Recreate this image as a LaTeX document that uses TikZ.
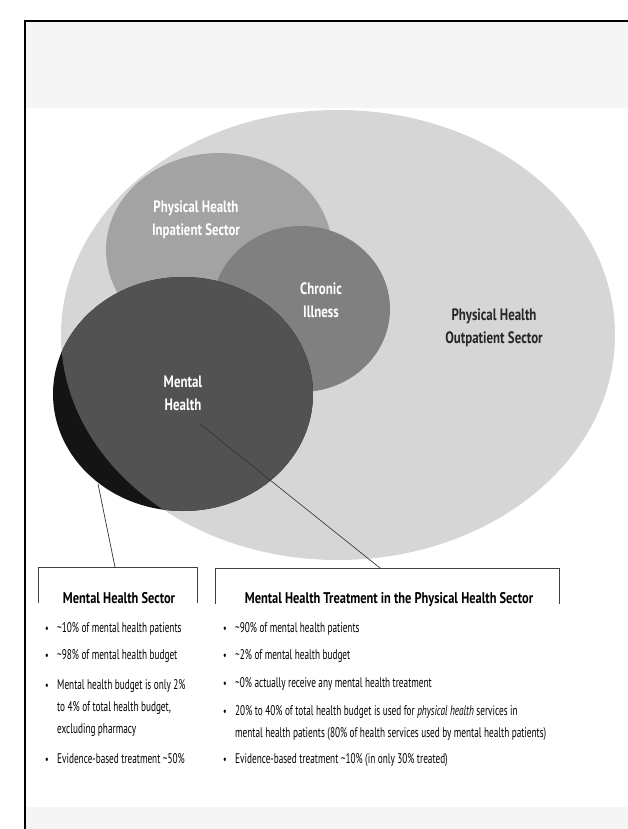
\documentclass[tikz,border=0pt]{standalone}
\usepackage{fontspec}
\setmainfont[FakeStretch=0.66]{PT Sans}
\newfontfamily\hdfont[FakeStretch=0.8]{PT Sans}
\newfontfamily\lbfont[FakeStretch=0.78]{PT Sans}
\newcommand{\tl}{\textasciitilde}
\begin{document}
\begin{tikzpicture}[x=1pt,y=-1pt,
  bodytext/.style={anchor=base west,inner sep=0pt,font=\fontsize{14}{16}\selectfont,text=black},
  bul/.style={anchor=base,inner sep=0pt,font=\fontsize{12}{14}\selectfont,text=black},
  boxtitle/.style={anchor=base,inner sep=0pt,font=\hdfont\fontsize{15.5}{18}\selectfont\bfseries,text=black},
  vlabel/.style={align=center,inner sep=0pt,font=\lbfont\fontsize{16.5}{23}\selectfont\bfseries,text=white},
  framebox/.style={draw=black!75,line width=1pt},
  leader/.style={draw=black!80,line width=0.7pt}]
\useasboundingbox (0,0) rectangle (628,829);
\fill[white] (0,0) rectangle (628,829);
% background bands
\fill[black!4] (25,21) rectangle (628,108);
\fill[black!4] (25,807) rectangle (628,829);
% frame
\draw[black,line width=1.6pt] (25,829) -- (25,21) -- (628,21);
% ellipses
\fill[black!16] (338,335) ellipse [x radius=277,y radius=225];
\fill[black!36] (219,250) ellipse [x radius=113,y radius=97];
\fill[black!50] (301,309) ellipse [x radius=89,y radius=83];
\fill[black!92] (183,394) ellipse [x radius=130,y radius=117];
\begin{scope}
  \clip (338,335) ellipse [x radius=277,y radius=225];
  \fill[black!68] (183,394) ellipse [x radius=130,y radius=117];
\end{scope}
% labels
\node[vlabel] (inpat) at (196,220) {Physical Health\\Inpatient Sector};
\node[vlabel] (chron) at (321,300) {Chronic\\Illness};
\node[vlabel] (mental) at (183,393) {Mental\\Health};
\node[vlabel,text=black!85] (outpat) at (494,328) {Physical Health\\Outpatient Sector};
% boxes
\coordinate (lbl) at (38,603); \coordinate (ltl) at (38,567);
\coordinate (ltr) at (197,567); \coordinate (lbr) at (197,603);
\draw[framebox] (lbl) -- (ltl) -- (ltr) -- (lbr);
\coordinate (rbl) at (215,604); \coordinate (rtl) at (215,568);
\coordinate (rtr) at (559,568); \coordinate (rbr) at (559,604);
\draw[framebox] (rbl) -- (rtl) -- (rtr) -- (rbr);
% leaders
\coordinate (lstart) at (98,484); \coordinate (lend) at (115,567);
\coordinate (rstart) at (200,424); \coordinate (rend) at (380,568);
\draw[leader] (lstart) -- (lend);
\draw[leader] (rstart) -- (rend);
% titles
\node[boxtitle] (lt) at (119,603) {Mental Health Sector};
\node[boxtitle] (rt) at (389,603) {Mental Health Treatment in the Physical Health Sector};
% left bullets
\foreach \y/\t in {632/{\tl10\% of mental health patients},659/{\tl98\% of mental health budget},689/{Mental health budget is only 2\%},763/{Evidence-based treatment \tl50\%}}{
  \node[bul] at (47,\y) {•};
  \node[bodytext] at (57,\y) {\t};
}
\node[bodytext] (l3b) at (57,711) {to 4\% of total health budget,};
\node[bodytext] (l3c) at (57,733) {excluding pharmacy};
% right bullets
\foreach \y/\t in {632/{\tl90\% of mental health patients},659/{\tl2\% of mental health budget},687/{\tl0\% actually receive any mental health treatment},715/{20\% to 40\% of total health budget is used for \textit{physical health} services in},763/{Evidence-based treatment \tl10\% (in only 30\% treated)}}{
  \node[bul] at (225,\y) {•};
  \node[bodytext] at (235,\y) {\t};
}
\node[bodytext] (r4b) at (235,737) {mental health patients (80\% of health services used by mental health patients)};
\end{tikzpicture}
\end{document}
